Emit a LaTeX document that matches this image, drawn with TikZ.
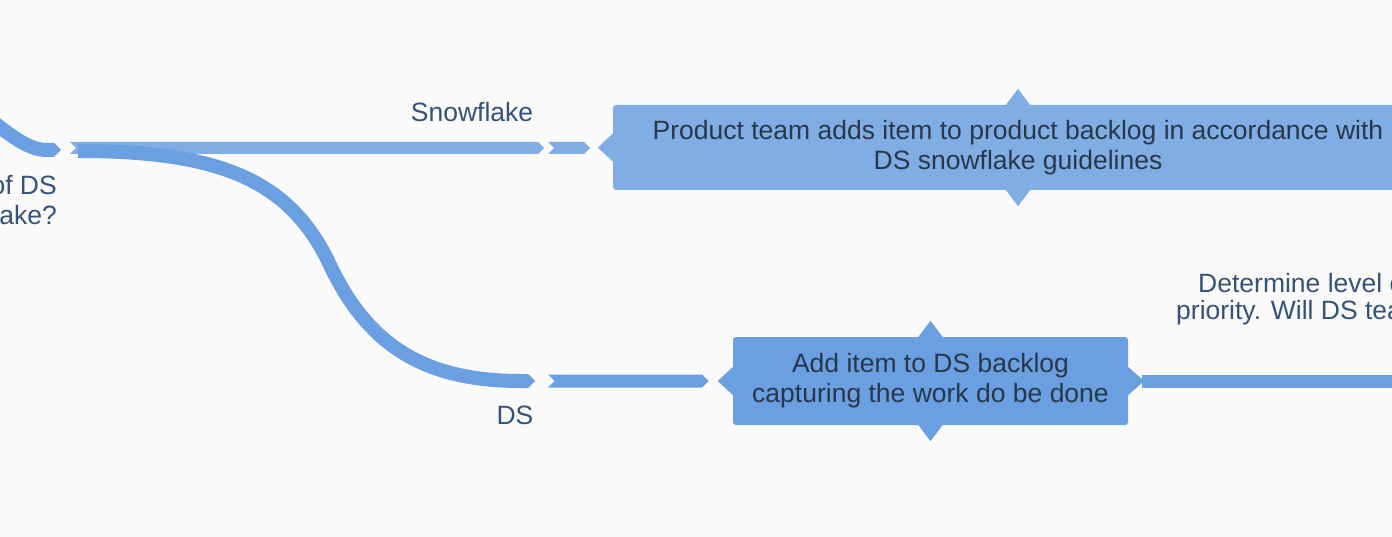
\documentclass[tikz,border=0pt]{standalone}
\usepackage{fontspec}
\setmainfont{Liberation Sans}
\usetikzlibrary{arrows.meta}
\definecolor{paleblue}{HTML}{80AEE4}
\definecolor{midblue}{HTML}{6A9FE1}
\definecolor{labelblue}{HTML}{34527A}
\definecolor{boxtext}{HTML}{28374A}
\definecolor{canvas}{HTML}{FAFAFA}
\tikzset{
  stepbox/.style={rectangle, rounded corners=3pt, inner sep=0pt, align=center,
    text=boxtext, font=\fontsize{26.5}{30}\selectfont},
  lbl/.style={inner sep=0pt, text=labelblue, font=\fontsize{26.5}{30}\selectfont},
  flow/.style={line width=14pt, midblue},
}
% bar with a notched start and a pointed end, between two named coordinates
\newcommand\chevbar[4]{%
  \fill[#1] ([yshift=#4]#2) -- ([yshift=#4]#3) -- ([xshift=#4]#3) -- ([yshift=-#4]#3)
    -- ([yshift=-#4]#2) -- ([xshift=#4]#2) -- cycle;}

\begin{document}
\begin{tikzpicture}[x=1pt,y=-1pt]
  \useasboundingbox (0,0) rectangle (1392,537);
  \fill[canvas] (0,0) rectangle (1392,537);
  \clip (0,0) rectangle (1392,537);

  % boxes
  \node[stepbox, fill=paleblue, minimum width=810pt, minimum height=85pt] (prod) at (1018,147.5)
    {Product team adds item to product backlog in accordance with\\DS snowflake guidelines};
  \node[stepbox, fill=midblue, minimum width=395pt, minimum height=88pt] (dsb) at (930.5,381)
    {Add item to DS backlog\\capturing the work do be done};
  \foreach \b/\c in {prod/paleblue, dsb/midblue} {
    \fill[\c] ([xshift=-12pt]\b.north) -- ([yshift=16pt]\b.north) -- ([xshift=12pt]\b.north) -- cycle;
    \fill[\c] ([xshift=-12pt]\b.south) -- ([yshift=-16pt]\b.south) -- ([xshift=12pt]\b.south) -- cycle;
    \fill[\c] ([yshift=14pt]\b.west) -- ([xshift=-15pt]\b.west) -- ([yshift=-14pt]\b.west) -- cycle;
  }
  \fill[midblue] ([yshift=14pt]dsb.east) -- ([xshift=16pt]dsb.east) -- ([yshift=-14pt]dsb.east) -- cycle;

  % connector points
  \coordinate (src) at (-30,103);
  \coordinate (join) at (61,150);
  \coordinate (snowA) at (70,148);
  \coordinate (snowB) at (538,148);
  \coordinate (snowC) at (548,148);
  \coordinate (snowD) at (584,148);
  \coordinate (curveA) at (78,151);
  \coordinate (bend) at (330,265);
  \coordinate (dsA) at (535,381);
  \coordinate (dsC) at (548,381);
  \coordinate (dsD) at (702,381);
  \coordinate (next) at (1400,381);

  % connectors
  \draw[flow, -{Triangle Cap}] (src) .. controls (10,136) and (28,150) .. (join);
  \chevbar{paleblue}{snowA}{snowB}{6pt}
  \chevbar{paleblue}{snowC}{snowD}{6pt}
  \draw[flow, -{Triangle Cap}] (curveA) .. controls (220,151) and (290,180) .. (bend)
    .. controls (370,350) and (430,381) .. (dsA);
  \chevbar{midblue}{dsC}{dsD}{6.5pt}
  \draw[flow, line width=13pt] ([xshift=14pt]dsb.east) -- (next);

  % labels
  \node[lbl] (snowlbl) at (472,112) {Snowflake};
  \node[lbl] (dslbl) at (515,415) {DS};
  \node[lbl, anchor=east, align=right] (ask) at (57,200) {of DS\\ake?};
  \node[lbl, anchor=west] (det1) at (1198,283) {Determine level of};
  \node[lbl, anchor=west] (det2) at (1176,313) {priority. Will DS team};
\end{tikzpicture}
\end{document}
